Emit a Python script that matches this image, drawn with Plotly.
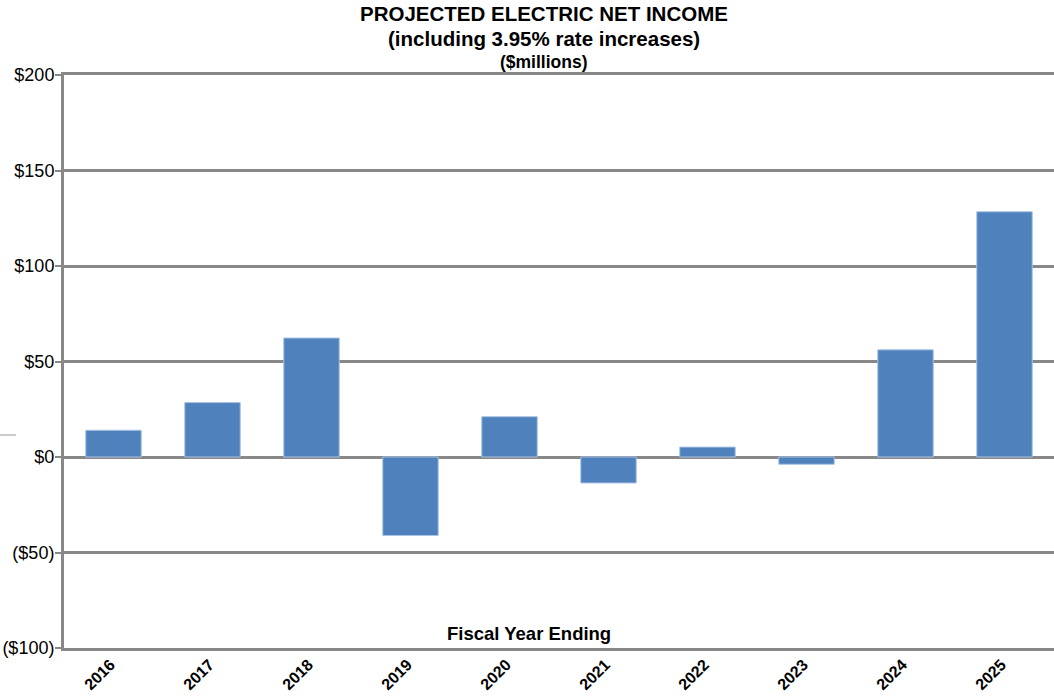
import plotly.graph_objects as go

# Fiscal years and projected electric net income ($ millions)
years = ["2016", "2017", "2018", "2019", "2020", "2021", "2022", "2023", "2024", "2025"]
net_income = [14.0, 28.5, 62.3, -41.1, 21.1, -13.6, 5.2, -3.8, 56.1, 128.4]

y_ticks = [-100, -50, 0, 50, 100, 150, 200]
y_tick_labels = ["($100)", "($50)", "$0", "$50", "$100", "$150", "$200"]

W, H = 1054, 696
M_L, M_R, M_T, M_B = 64, 0, 75, 48
PLOT_H = H - M_T - M_B
PLOT_W = W - M_L - M_R


def px_x(x):
    return (x - M_L) / PLOT_W


def px_y(y):
    return (H - M_B - y) / PLOT_H


GRID = "#888888"
FONT = "Liberation Sans, Arial, sans-serif"

fig = go.Figure(
    go.Bar(
        x=years,
        y=net_income,
        marker=dict(color="#4F81BD", line=dict(color="#A9C3E4", width=1)),
        hoverinfo="x+y",
    )
)

fig.update_layout(
    width=W,
    height=H,
    margin=dict(l=M_L, r=M_R, t=M_T, b=M_B, autoexpand=False),
    paper_bgcolor="white",
    plot_bgcolor="white",
    bargap=0.44,
    showlegend=False,
    font=dict(family=FONT, color="black"),
)

# bottom and top frame lines double as the -100 / 200 gridlines
fig.update_xaxes(
    type="category",
    tickangle=-45,
    tickfont=dict(size=16, family=FONT, color="black", weight="bold"),
    showgrid=False,
    showline=True,
    mirror=True,
    linecolor=GRID,
    linewidth=3,
    ticks="",
    ticklabelshift=-3,
    ticklabelstandoff=-2,
    zeroline=False,
    automargin=False,
)

fig.update_yaxes(
    range=[-100, 200],
    tickvals=y_ticks,
    ticktext=y_tick_labels,
    tickfont=dict(size=18, family=FONT, color="black"),
    showgrid=True,
    gridcolor=GRID,
    gridwidth=3,
    zeroline=False,
    showline=True,
    linecolor=GRID,
    linewidth=3,
    ticks="outside",
    ticklen=6,
    tickwidth=2,
    tickcolor=GRID,
    ticklabelstandoff=-3,
    automargin=False,
)

title_lines = [
    ("PROJECTED ELECTRIC NET INCOME", 20.5, 14),
    ("(including 3.95% rate increases)", 20.5, 39),
    ("($millions)", 17.5, 62),
]
for text, size, yc in title_lines:
    fig.add_annotation(
        text=f"<b>{text}</b>",
        xref="paper", yref="paper",
        x=px_x(544), y=px_y(yc),
        xanchor="center", yanchor="middle",
        showarrow=False,
        font=dict(size=size, family=FONT, color="black"),
    )

fig.add_annotation(
    text="<b>Fiscal Year Ending</b>",
    xref="paper", yref="paper",
    x=px_x(529), y=px_y(633),
    xanchor="center", yanchor="middle",
    showarrow=False,
    font=dict(size=18.5, family=FONT, color="black"),
)

# small stray dash at the left edge
fig.add_shape(
    type="line",
    xref="paper", yref="paper",
    x0=px_x(0), x1=px_x(16), y0=px_y(435), y1=px_y(435),
    line=dict(color="#999999", width=1),
)

fig.write_html("out.html")
